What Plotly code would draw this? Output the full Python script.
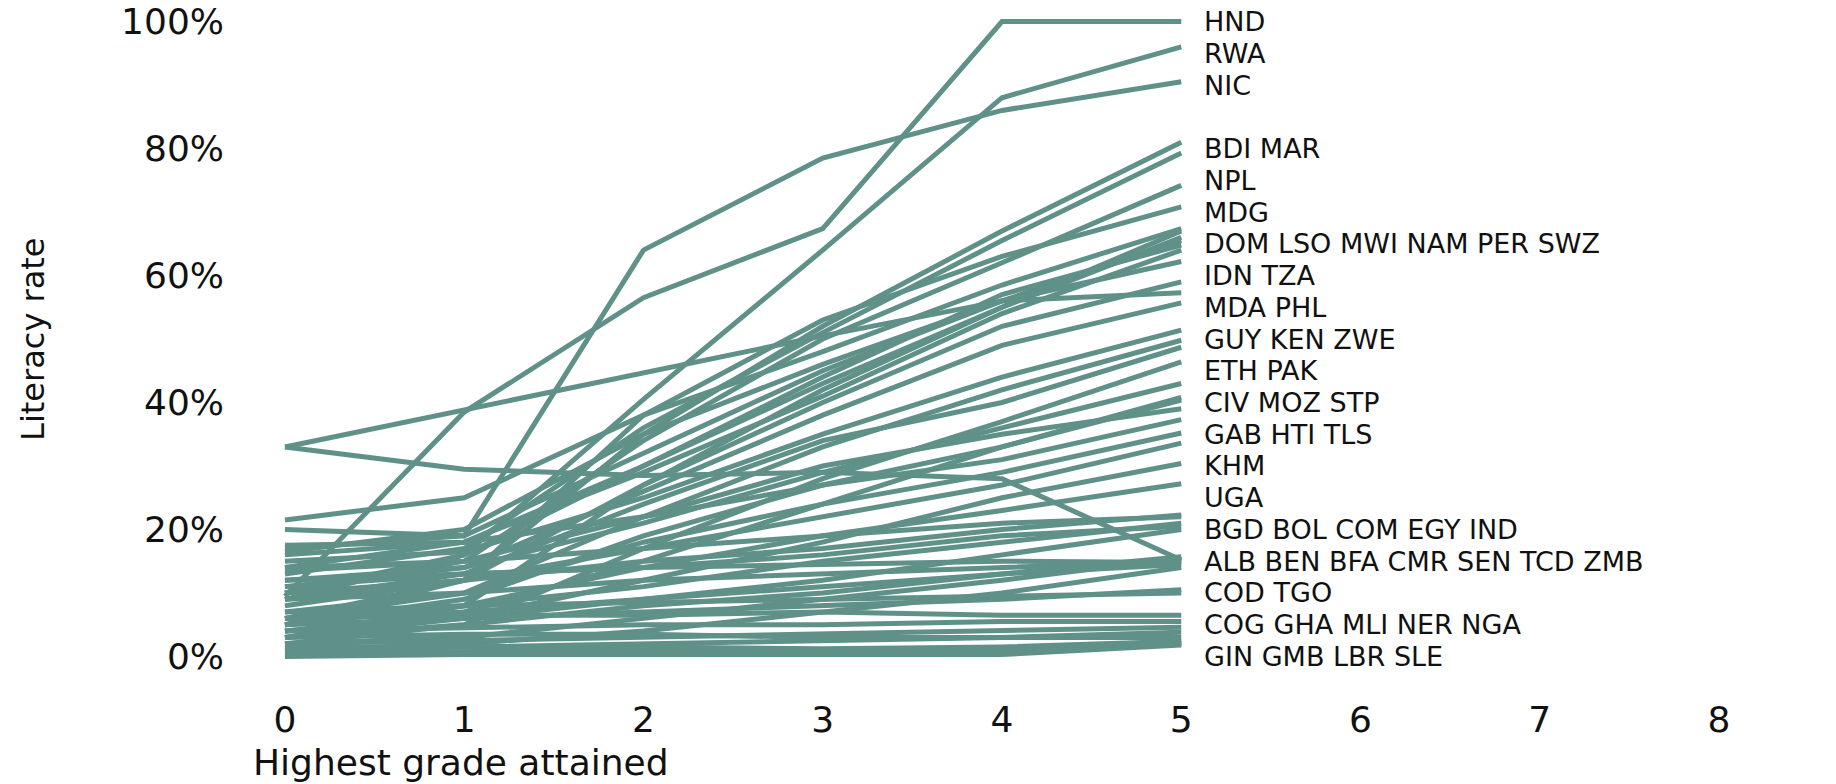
import plotly.graph_objects as go

# ---- data ----
grades = [0, 1, 2, 3, 4, 5]
x_ticks = [0, 1, 2, 3, 4, 5, 6, 7, 8]
y_ticks = [0, 20, 40, 60, 80, 100]
y_tick_labels = ["0%", "20%", "40%", "60%", "80%", "100%"]

countries = ["HND", "RWA", "NIC", "BDI", "MAR", "NPL", "MDG",
             "DOM", "LSO", "MWI", "NAM", "PER", "SWZ",
             "IDN", "TZA", "MDA", "PHL", "GUY", "KEN", "ZWE",
             "ETH", "PAK", "CIV", "MOZ", "STP", "GAB", "HTI", "TLS",
             "KHM", "UGA", "BGD", "BOL", "COM", "EGY", "IND",
             "ALB", "BEN", "BFA", "CMR", "SEN", "TCD", "ZMB",
             "COD", "TGO", "COG", "GHA", "MLI", "NER", "NGA",
             "GIN", "GMB", "LBR", "SLE"]

grade0 = [9.5, 9, 20, 5, 13, 10, 6,
          21.5, 10, 3, 17, 17.5, 14,
          16.5, 8, 33, 11, 15, 6, 9,
          2, 12, 4, 5, 13.5, 16, 7, 9,
          3, 5, 10, 14, 6, 11, 4,
          33, 3, 2, 12, 6, 1, 9,
          5, 7, 6, 4, 2, 1, 3,
          0.5, 1.5, 0, 0.3]
grade1 = [38.5, 16, 19, 12, 17, 15, 12,
          25, 16, 8, 19, 18, 18,
          20, 12, 38.8, 14, 16.5, 10, 13,
          5, 14, 7, 9, 15, 18, 10, 12,
          6, 8, 12, 15, 8, 13, 6,
          29.5, 5, 3, 13, 7, 2, 10,
          6, 8, 6.5, 4.5, 2.5, 1.5, 3.5,
          0.8, 1.5, 0.3, 0.5]
grade2 = [56.5, 40.5, 64, 35, 36, 34, 38,
          38, 30, 27, 32, 30, 29,
          35, 27, 44.5, 26, 25, 22, 24,
          17, 21, 15, 19, 22, 22, 18, 17,
          12, 14, 15, 17, 11, 14, 9,
          28.5, 8, 6, 14, 9, 4, 12,
          7, 8.5, 6.5, 5, 3, 2, 3.5,
          1, 1.5, 0.3, 0.5]
grade3 = [67.4, 64, 78.5, 52, 51, 50, 53,
          48, 43, 42, 45, 44, 41,
          46, 40, 50.5, 38, 35, 33, 34,
          28, 29, 24, 27, 30, 27, 24, 22,
          18, 19, 17, 19, 15, 16, 12,
          29, 10, 9, 14.5, 11, 7, 13,
          8, 9, 7, 5, 3.5, 2.5, 3,
          1, 1.2, 0.3, 0.4]
grade4 = [100, 88, 86, 67, 65.5, 62, 63,
          58.5, 55, 55, 56, 57, 54,
          56, 52, 56, 49, 44, 42, 40,
          37, 36, 33, 33, 35, 31, 29, 27,
          25, 23, 20, 21, 18, 19, 16,
          28, 13, 12, 15, 13, 10, 14,
          9, 9.5, 6.5, 5.5, 4, 3, 3,
          1, 1.5, 0.3, 0.5]
grade5 = [100, 96, 90.5, 81, 79.3, 74.2, 70.8,
          67.4, 67, 66, 65.5, 64.8, 64,
          62.2, 59, 57.3, 55.7, 51.4, 49.8, 48.7,
          46.4, 43, 40.8, 40.4, 39, 37.3, 35.2, 33.6,
          30.4, 27.2, 22.3, 22, 21, 20.5, 20,
          15.2, 15.7, 15.5, 14.8, 14.5, 14, 15,
          10.5, 10, 6.5, 5.5, 4.6, 3.8, 3,
          2.2, 2.4, 1.8, 2]

# ---- style ----
LINE_COLOR = "#5f9188"
TEXT_COLOR = "#111111"
FONT = "DejaVu Sans"

fig = go.Figure()
series = [grade0, grade1, grade2, grade3, grade4, grade5]
for i, name in enumerate(countries):
    vals = [s[i] for s in series]
    fig.add_trace(go.Scatter(
        x=grades, y=vals, mode="lines", name=name, showlegend=False,
        line=dict(color=LINE_COLOR, width=5),
        hovertemplate=name + ": %{y:.1f}%<extra></extra>",
    ))

# labels grouped by final value rounded to nearest 5%
groups = {}
for i, name in enumerate(countries):
    key = int(round(grade5[i] / 5.0) * 5)
    groups.setdefault(key, []).append(name)
for key, names in groups.items():
    fig.add_annotation(
        x=5.115, y=key, xref="x", yref="y", text=" ".join(sorted(names)),
        showarrow=False, xanchor="left", yanchor="middle",
        font=dict(family=FONT, size=27, color=TEXT_COLOR),
    )

# axis titles
fig.add_annotation(
    x=-0.167, y=0.4994, xref="paper", yref="paper", text="Literacy rate",
    textangle=-90, showarrow=False, xanchor="center", yanchor="middle",
    font=dict(family=FONT, size=32, color=TEXT_COLOR),
)
fig.add_annotation(
    x=-0.0172, y=-0.1475, xref="paper", yref="paper", text="Highest grade attained",
    showarrow=False, xanchor="left", yanchor="middle",
    font=dict(family=FONT, size=36, color=TEXT_COLOR),
)

fig.update_layout(
    width=1836, height=784,
    margin=dict(l=276, r=108, t=12, b=118),
    paper_bgcolor="white", plot_bgcolor="white",
    xaxis=dict(range=[-0.05, 8.05], tickvals=x_ticks, showgrid=False, zeroline=False,
               showline=False, ticks="", ticklabelstandoff=29, automargin=False,
               tickfont=dict(family=FONT, size=36, color=TEXT_COLOR)),
    yaxis=dict(range=[-1.5, 101.5], tickvals=y_ticks, ticktext=y_tick_labels,
               showgrid=False, zeroline=False, showline=False, ticks="",
               ticklabelstandoff=51, automargin=False, ticklabeloverflow="allow",
               tickfont=dict(family=FONT, size=36, color=TEXT_COLOR)),
)

fig.write_html("out.html", config={"displayModeBar": False},
               post_script="document.body.style.margin='0';")
